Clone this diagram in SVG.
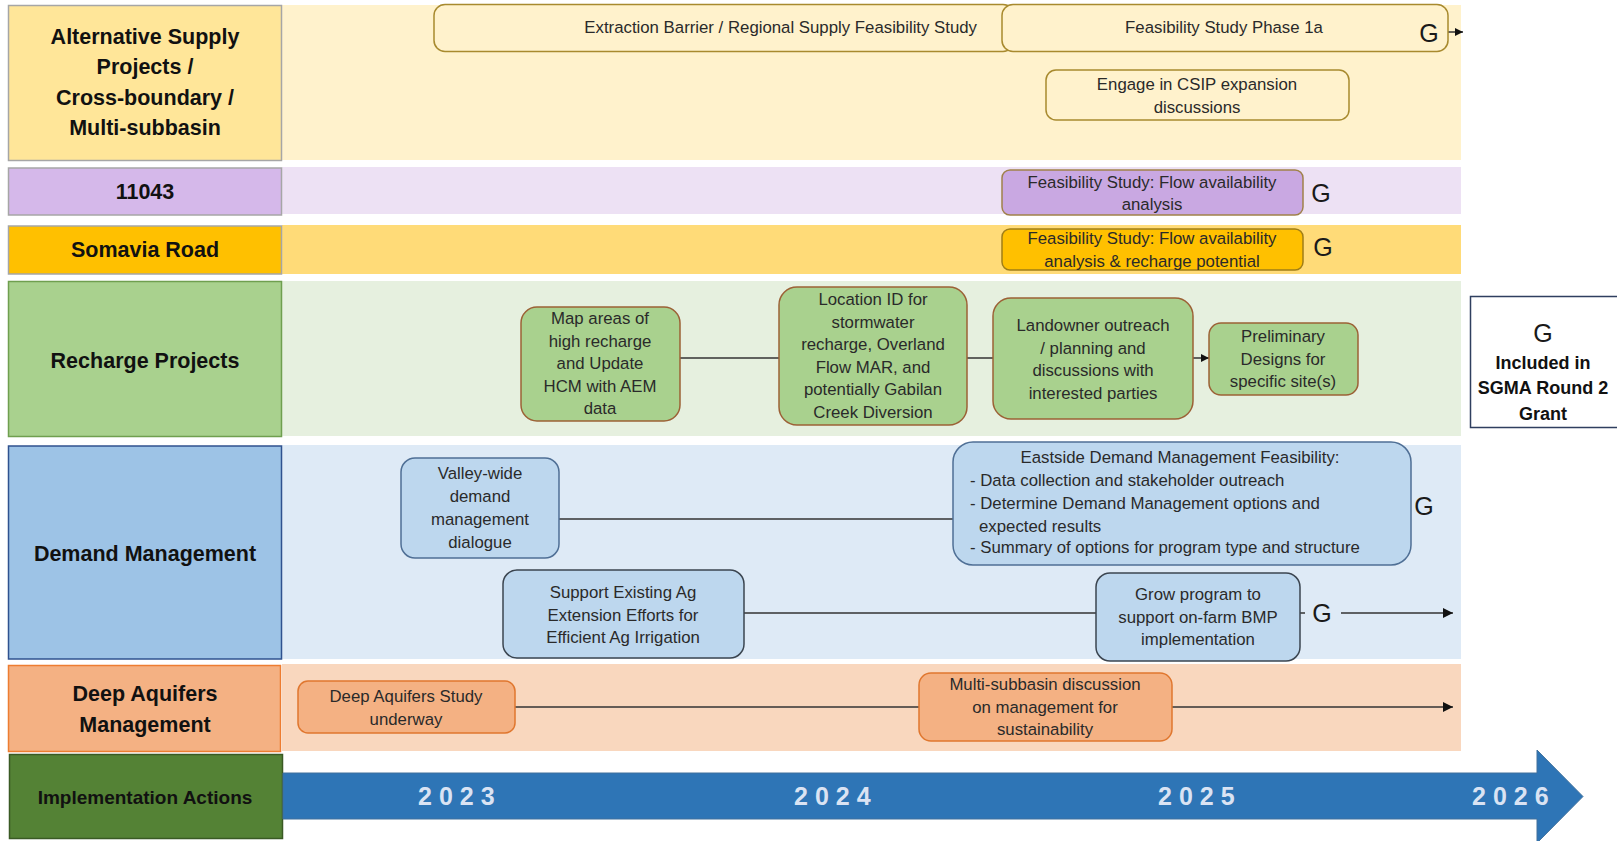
<svg xmlns="http://www.w3.org/2000/svg" width="1617" height="841" viewBox="0 0 1617 841">
<style>
text{font-family:"Liberation Sans",Arial,sans-serif}
.lbl{font-size:21.5px;font-weight:bold;fill:#111;text-anchor:middle}
.t{font-size:16.8px;fill:#2a2a2a;text-anchor:middle}
.tl{font-size:16.8px;fill:#2a2a2a}
.g{font-size:25px;fill:#1a1a1a;text-anchor:middle}
.yr{font-size:25px;font-weight:bold;fill:#DAE3F3;letter-spacing:7px}
.c{stroke:#333;stroke-width:1.5;fill:none}
.gold{fill:#FFF2CC;stroke:#A88A2E;stroke-width:1.5}
.grn{fill:#A9D18E;stroke:#9C6136;stroke-width:1.5}
.blu{fill:#BDD7EE;stroke:#4F6F95;stroke-width:1.5}
.bld{fill:#BDD7EE;stroke:#3B4550;stroke-width:1.5}
.org{fill:#F4B183;stroke:#E0772F;stroke-width:1.5}
</style>
<defs>
<marker id="ah" viewBox="0 0 10 10" refX="10" refY="5" markerWidth="11" markerHeight="10" markerUnits="userSpaceOnUse" orient="auto">
<path d="M0,0 L10,5 L0,10 z" fill="#111"/>
</marker>
<marker id="ahs" viewBox="0 0 10 10" refX="10" refY="5" markerWidth="9" markerHeight="8" markerUnits="userSpaceOnUse" orient="auto">
<path d="M0,0 L10,5 L0,10 z" fill="#111"/>
</marker>
</defs>
<rect width="1617" height="841" fill="#fff"/>

<!-- bands -->
<g id="bands">
<rect x="282" y="5" width="1179" height="155" fill="#FFF2CC"/>
<rect x="282" y="167" width="1179" height="47" fill="#EDE1F4"/>
<rect x="282" y="225" width="1179" height="49" fill="#FFDB78"/>
<rect x="282" y="281" width="1179" height="155" fill="#E6F0DF"/>
<rect x="282" y="445" width="1179" height="214" fill="#DEEAF6"/>
<rect x="282" y="664" width="1179" height="87" fill="#F9D7BE"/>
</g>

<!-- row labels -->
<g id="label-alt">
<rect x="8.5" y="5.5" width="273" height="155" fill="#FFE699" stroke="#A6A6A6" stroke-width="1.5"/>
<text class="lbl" x="145" y="43.5">Alternative Supply</text>
<text class="lbl" x="145" y="74">Projects /</text>
<text class="lbl" x="145" y="104.5">Cross-boundary /</text>
<text class="lbl" x="145" y="135">Multi-subbasin</text>
</g>
<g id="label-11043">
<rect x="8.5" y="168" width="273" height="47" fill="#D5B8EA" stroke="#A6A6A6" stroke-width="1.5"/>
<text class="lbl" x="145" y="198.5">11043</text>
</g>
<g id="label-somavia">
<rect x="8.5" y="226" width="273" height="48" fill="#FFC000" stroke="#A6A6A6" stroke-width="1.5"/>
<text class="lbl" x="145" y="257">Somavia Road</text>
</g>
<g id="label-recharge">
<rect x="8.5" y="281.5" width="273" height="155" fill="#A9D18E" stroke="#6F9F4F" stroke-width="1.5"/>
<text class="lbl" x="145" y="367.5">Recharge Projects</text>
</g>
<g id="label-demand">
<rect x="8.5" y="446" width="273" height="213" fill="#9DC3E6" stroke="#2F528F" stroke-width="1.5"/>
<text class="lbl" x="145" y="560.5">Demand Management</text>
</g>
<g id="label-deep">
<rect x="8.5" y="665.5" width="272" height="86" fill="#F4B183" stroke="#ED7D31" stroke-width="1.5"/>
<text class="lbl" x="145" y="700.5">Deep Aquifers</text>
<text class="lbl" x="145" y="731.5">Management</text>
</g>
<g id="label-impl">
<rect x="9.5" y="754.5" width="273" height="84" fill="#548235" stroke="#3A5A24" stroke-width="1.5"/>
<text class="lbl" x="145" y="804" style="font-size:19px">Implementation Actions</text>
</g>

<!-- timeline arrow -->
<g id="timeline">
<path d="M283,773 L1537,773 L1537,750 L1583,796.5 L1537,843 L1537,819 L283,819 Z" fill="#2E75B6" stroke="#41719C" stroke-width="1"/>
<text class="yr" x="418" y="805">2023</text>
<text class="yr" x="794" y="805">2024</text>
<text class="yr" x="1158" y="805">2025</text>
<text class="yr" x="1472" y="805">2026</text>
</g>

<!-- connectors -->
<g id="connectors">
<line class="c" x1="1448" y1="32" x2="1463" y2="32" marker-end="url(#ahs)"/>
<line class="c" x1="680" y1="358" x2="779" y2="358"/>
<line class="c" x1="967" y1="358" x2="993" y2="358"/>
<line class="c" x1="1193" y1="358" x2="1209" y2="358" marker-end="url(#ahs)"/>
<line class="c" x1="559" y1="519" x2="953" y2="519"/>
<line class="c" x1="744" y1="613" x2="1096" y2="613"/>
<line class="c" x1="1300" y1="613" x2="1305" y2="613"/>
<line class="c" x1="1341" y1="613" x2="1453" y2="613" marker-end="url(#ah)"/>
<line class="c" x1="515" y1="707" x2="919" y2="707"/>
<line class="c" x1="1172" y1="707" x2="1453" y2="707" marker-end="url(#ah)"/>
</g>

<!-- row 1 nodes -->
<g id="n-extraction">
<rect class="gold" x="434" y="4.5" width="580" height="47" rx="11"/>
<text class="t" x="977" y="33" style="text-anchor:end">Extraction Barrier / Regional Supply Feasibility Study</text>
</g>
<g id="n-phase1a">
<rect class="gold" x="1002" y="4.5" width="446" height="47" rx="11"/>
<text class="t" x="1224" y="33">Feasibility Study Phase 1a</text>
<text class="g" x="1429" y="42">G</text>
</g>
<g id="n-csip">
<rect class="gold" x="1046" y="70" width="303" height="50" rx="10"/>
<text class="t" x="1197" y="90">Engage in CSIP expansion</text>
<text class="t" x="1197" y="113">discussions</text>
</g>

<!-- row 2 -->
<g id="n-11043">
<rect x="1002" y="170" width="301" height="45" rx="8" fill="#C9A8E2" stroke="#A0814A" stroke-width="1.5"/>
<text class="t" x="1152" y="188">Feasibility Study: Flow availability</text>
<text class="t" x="1152" y="210">analysis</text>
<text class="g" x="1321" y="202">G</text>
</g>

<!-- row 3 -->
<g id="n-somavia">
<rect x="1002" y="229" width="301" height="41" rx="8" fill="#FFC000" stroke="#A07E16" stroke-width="1.5"/>
<text class="t" x="1152" y="244">Feasibility Study: Flow availability</text>
<text class="t" x="1152" y="267">analysis &amp; recharge potential</text>
<text class="g" x="1323" y="256">G</text>
</g>

<!-- row 4 recharge -->
<g id="n-map">
<rect class="grn" x="521" y="307" width="159" height="114" rx="16"/>
<text class="t" x="600" y="324">Map areas of</text>
<text class="t" x="600" y="346.5">high recharge</text>
<text class="t" x="600" y="369">and Update</text>
<text class="t" x="600" y="391.5">HCM with AEM</text>
<text class="t" x="600" y="414">data</text>
</g>
<g id="n-location">
<rect class="grn" x="779" y="287" width="188" height="138" rx="18"/>
<text class="t" x="873" y="305">Location ID for</text>
<text class="t" x="873" y="327.5">stormwater</text>
<text class="t" x="873" y="350">recharge, Overland</text>
<text class="t" x="873" y="372.5">Flow MAR, and</text>
<text class="t" x="873" y="395">potentially Gabilan</text>
<text class="t" x="873" y="417.5">Creek Diversion</text>
</g>
<g id="n-landowner">
<rect class="grn" x="993" y="298" width="200" height="121" rx="18"/>
<text class="t" x="1093" y="331">Landowner outreach</text>
<text class="t" x="1093" y="353.5">/ planning and</text>
<text class="t" x="1093" y="376">discussions with</text>
<text class="t" x="1093" y="398.5">interested parties</text>
</g>
<g id="n-preliminary">
<rect class="grn" x="1209" y="323" width="149" height="72" rx="12"/>
<text class="t" x="1283" y="342">Preliminary</text>
<text class="t" x="1283" y="364.5">Designs for</text>
<text class="t" x="1283" y="387">specific site(s)</text>
</g>

<!-- legend -->
<g id="legend">
<rect x="1470.5" y="296.5" width="150" height="131" fill="#fff" stroke="#2F3F5F" stroke-width="1.5"/>
<text class="g" x="1543" y="342">G</text>
<text x="1543" y="368.5" style="font-size:18px;font-weight:bold;fill:#111;text-anchor:middle">Included in</text>
<text x="1543" y="394" style="font-size:18px;font-weight:bold;fill:#111;text-anchor:middle">SGMA Round 2</text>
<text x="1543" y="419.5" style="font-size:18px;font-weight:bold;fill:#111;text-anchor:middle">Grant</text>
</g>

<!-- row 5 demand -->
<g id="n-valley">
<rect class="blu" x="401" y="458" width="158" height="100" rx="14"/>
<text class="t" x="480" y="479">Valley-wide</text>
<text class="t" x="480" y="502">demand</text>
<text class="t" x="480" y="525">management</text>
<text class="t" x="480" y="548">dialogue</text>
</g>
<g id="n-eastside">
<rect class="blu" x="953" y="442" width="458" height="123" rx="20"/>
<text class="t" x="1180" y="463">Eastside Demand Management Feasibility:</text>
<text class="tl" x="970" y="486">- Data collection and stakeholder outreach</text>
<text class="tl" x="970" y="509">- Determine Demand Management options and</text>
<text class="tl" x="979" y="532">expected results</text>
<text class="tl" x="970" y="553">- Summary of options for program type and structure</text>
<text class="g" x="1424" y="515">G</text>
</g>
<g id="n-support">
<rect class="bld" x="503" y="570" width="241" height="88" rx="14"/>
<text class="t" x="623" y="598">Support Existing Ag</text>
<text class="t" x="623" y="620.5">Extension Efforts for</text>
<text class="t" x="623" y="643">Efficient Ag Irrigation</text>
</g>
<g id="n-grow">
<rect class="bld" x="1096" y="573" width="204" height="88" rx="14"/>
<text class="t" x="1198" y="600">Grow program to</text>
<text class="t" x="1198" y="622.5">support on-farm BMP</text>
<text class="t" x="1198" y="645">implementation</text>
<text class="g" x="1322" y="622">G</text>
</g>

<!-- row 6 deep -->
<g id="n-deepstudy">
<rect class="org" x="298" y="681" width="217" height="52" rx="10"/>
<text class="t" x="406" y="702">Deep Aquifers Study</text>
<text class="t" x="406" y="724.5">underway</text>
</g>
<g id="n-multi">
<rect class="org" x="919" y="673" width="253" height="68" rx="12"/>
<text class="t" x="1045" y="690">Multi-subbasin discussion</text>
<text class="t" x="1045" y="712.5">on management for</text>
<text class="t" x="1045" y="735">sustainability</text>
</g>
</svg>
